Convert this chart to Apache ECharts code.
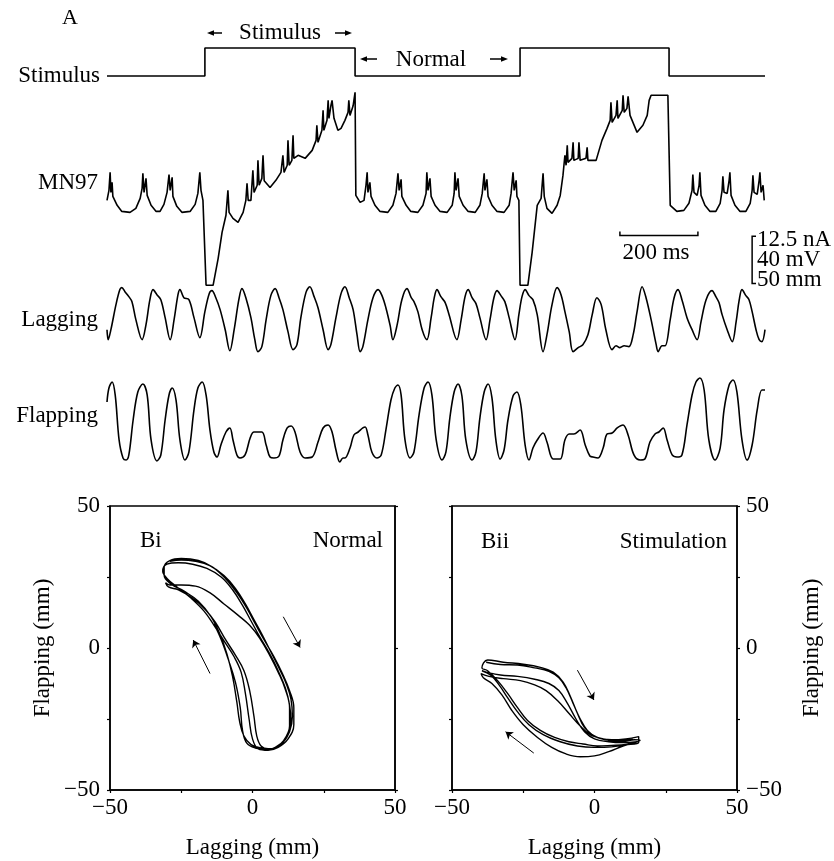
<!DOCTYPE html>
<html>
<head>
<meta charset="utf-8">
<script src="https://cdn.jsdelivr.net/npm/echarts@6/dist/echarts.min.js"></script>
<style>
html,body{margin:0;padding:0;background:#fff;}
#chart{width:834px;height:861px;}
</style>
</head>
<body>
<div id="chart"></div>
<script>
// ---------------- DATA ----------------
// time in ms, stimulus on/off
var stimulusTrace = [[0,0],[251,0],[251,1],[636,1],[636,0],[1059,0],[1059,1],[1441,1],[1441,0],[1687,0]];

// MN97 membrane potential [ms, mV]
var mn97Trace = [
[0,-49.8],[5,-41.3],[8,-26],[10,-43],[13,-34.5],[15,-46.4],[26,-54],[38,-59.2],[59,-60],[74,-56.6],[85,-48.1],[90,-39.6],[92,-26.9],[95,-43],[100,-31.1],[103,-45.6],[113,-54],[126,-59.2],[136,-59.2],[146,-53.2],[154,-43],[159,-27.8],[162,-41.3],[167,-30.2],[169,-46.4],[179,-54.9],[192,-60],[213,-59.2],[226,-53.2],[233,-43.9],[238,-26],[241,-41.3],[246,-49.8],[251,-51.5],
[254,-122],[272,-122],[285,-99.1],[295,-77],[305,-62.5],[310,-41.3],[313,-60],[323,-65.1],[336,-68.5],[349,-60],[356,-49.8],[359,-35.3],[362,-49.8],[369,-49.8],[374,-24.3],[377,-43],[385,-37],[387,-15.8],[390,-37],[397,-31.1],[400,-11.5],[403,-33.2],[418,-38.8],[433,-32.8],[446,-26],[451,-11.5],[454,-26],[462,-20],[464,1.2],[467,-20],[474,-15.8],[477,5.5],[479,-14.1],[490,-11.5],[508,-14.1],[526,-7.3],[536,1.2],[538,14],[541,-0.5],[551,9.7],[554,26.7],[556,9.7],[564,18.2],[567,35.2],[569,19.9],[574,30.6],[577,35.2],[582,19.9],[592,9.7],[600,11.4],[610,18.2],[618,25],[620,35.2],[623,22.4],[631,30.6],[636,42],
[638,-45.6],[649,-51.5],[659,-49.8],[664,-37],[667,-26],[669,-43],[674,-34.5],[677,-46.4],[687,-54],[700,-59.2],[720,-60],[733,-54],[741,-43.9],[746,-26.9],[749,-41.3],[754,-31.9],[756,-46.4],[767,-54],[779,-59.2],[797,-60],[810,-54],[818,-43.9],[820,-26],[823,-41.3],[828,-31.1],[831,-46.4],[841,-54],[854,-59.2],[872,-60],[885,-54],[890,-43.9],[892,-26],[895,-41.3],[900,-31.1],[903,-46.4],[913,-54],[926,-59.2],[944,-60],[956,-54],[962,-43.9],[967,-26.9],[969,-41.3],[974,-31.9],[977,-46.4],[987,-54],[1000,-59.2],[1018,-60],[1031,-54],[1036,-43.9],[1041,-26],[1044,-41.3],[1049,-32.8],[1051,-46.4],[1056,-49.8],
[1059,-122],[1079,-122],[1090,-94],[1103,-54],[1113,-48.1],[1118,-26.9],[1121,-46.4],[1128,-56.6],[1141,-60.9],[1154,-54],[1162,-45.6],[1169,-28.6],[1174,-11.5],[1177,-20],[1180,-3],[1182,-17.5],[1192,-14.1],[1195,-0.5],[1197,-15.8],[1208,-14.1],[1210,-0.5],[1213,-15.8],[1228,-14.1],[1231,-4.7],[1233,-15.8],[1254,-15.8],[1269,1.2],[1282,11.4],[1290,18.2],[1292,33.5],[1295,16.5],[1305,22.4],[1308,35.2],[1310,19.9],[1321,26.7],[1323,39.5],[1326,25],[1333,28.4],[1336,38.6],[1341,22.4],[1359,8],[1374,14],[1385,22.4],[1390,35.2],[1395,39.5],[1438,39.5],
[1444,-54],[1461,-59.2],[1479,-58.3],[1492,-52.3],[1500,-41.3],[1502,-27.8],[1505,-43],[1513,-45.6],[1518,-37],[1520,-26],[1523,-45.6],[1533,-54],[1546,-59.2],[1561,-59.2],[1572,-52.3],[1577,-41.3],[1579,-29.4],[1582,-43],[1590,-43.9],[1595,-32.8],[1597,-26],[1600,-45.6],[1610,-54],[1623,-59.2],[1638,-59.2],[1649,-52.3],[1654,-41.3],[1656,-28.6],[1659,-43],[1667,-44.7],[1672,-32.8],[1674,-26],[1677,-43],[1682,-37],[1685,-49.8]
];

// Lagging position [ms, mm]
var laggingTrace = [
[0,-12.8],[3,-23.4],[10,-12.8],[23,13.8],[33,29.8],[38,31.9],[46,27.6],[56,22.3],[64,17],[74,-2.1],[90,-23.4],[100,-7.4],[110,19.1],[118,29.8],[128,24.4],[138,19.1],[149,0],[162,-23.4],[172,-2.1],[182,24.4],[187,29.8],[197,21.2],[210,19.1],[223,0],[238,-21.2],[251,6.4],[262,25.5],[269,28.7],[279,21.2],[290,8.5],[303,-12.8],[315,-35.1],[326,-12.8],[338,19.1],[346,30.8],[356,21.2],[369,0],[379,-23.4],[387,-36.1],[397,-30.8],[408,-2.1],[420,23.4],[431,30.8],[441,21.2],[451,8.5],[464,-14.9],[477,-34],[487,-28.7],[497,0],[510,26.6],[520,32.9],[531,22.3],[541,10.6],[554,-12.8],[567,-34],[574,-28.7],[587,0],[600,25.5],[610,32.9],[621,21.2],[631,8.5],[641,-18.1],[649,-36.1],[656,-30.8],[669,-2.1],[682,21.2],[695,29.8],[705,23.4],[715,10.6],[726,-8.5],[733,-23.4],[744,-7.4],[756,19.1],[769,30.8],[780,21.2],[787,17],[797,6.4],[808,-12.8],[820,-23.4],[831,0],[839,21.2],[846,29.8],[856,22.3],[867,16],[877,3.2],[897,-23.4],[908,-2.1],[918,22.3],[926,29.8],[936,21.2],[946,14.9],[956,0],[972,-23.4],[982,-2.1],[992,21.2],[1000,28.7],[1010,23.4],[1020,17],[1031,0],[1046,-23.4],[1056,3.2],[1064,22.3],[1072,29.8],[1082,23.4],[1092,19.1],[1103,3.2],[1118,-36.1],[1128,-18.1],[1141,13.8],[1154,31.9],[1164,24.4],[1174,6.4],[1185,-14.9],[1195,-36.1],[1208,-31.9],[1220,-28.7],[1233,-18.1],[1244,3.2],[1256,21.2],[1267,13.8],[1279,-12.8],[1295,-34],[1305,-29.8],[1315,-31.9],[1326,-29.8],[1338,-30.8],[1349,-18.1],[1359,6.4],[1372,32.9],[1382,21.2],[1395,-2.1],[1408,-28.7],[1413,-36.1],[1423,-29.8],[1431,-29.8],[1444,-2.1],[1454,21.2],[1464,29.8],[1474,19.1],[1487,0],[1500,-12.8],[1513,-23.4],[1523,-4.3],[1536,19.1],[1551,28.7],[1561,22.3],[1569,16],[1577,3.2],[1590,-12.8],[1603,-25.5],[1613,-4.3],[1621,19.1],[1628,29.8],[1638,23.4],[1646,19.1],[1654,6.4],[1664,-12.8],[1672,-23.4],[1679,-25.5],[1687,-12.8]
];

// Flapping position [ms, mm]
var flappingTrace = [
[0,19.2],[5,34.1],[13,40.5],[21,26.7],[31,-21.3],[41,-40.5],[49,-42.7],[56,-37.3],[67,0],[79,29.9],[92,38.4],[103,26.7],[113,-21.3],[128,-43.7],[138,-37.3],[149,0],[159,26.7],[167,34.1],[177,21.3],[187,-21.3],[200,-42.7],[210,-34.1],[223,10.7],[233,34.1],[244,40.5],[254,26.7],[264,-10.7],[274,-34.1],[282,-39.5],[292,-26.7],[305,-12.8],[315,-8.5],[323,-21.3],[333,-37.3],[341,-40.5],[354,-37.3],[367,-19.2],[377,-12.8],[397,-12.8],[408,-26.7],[418,-39.5],[428,-40.5],[441,-38.4],[451,-21.3],[462,-8.5],[472,-6.4],[482,-12.8],[495,-34.1],[508,-40.5],[526,-39.5],[541,-23.5],[554,-8.5],[567,-5.3],[577,-12.8],[587,-32],[597,-44.8],[605,-40.5],[610,-40.5],[623,-29.9],[633,-16],[644,-12.8],[656,-8.5],[662,-7.5],[669,-16],[679,-34.1],[692,-40.5],[703,-37.3],[715,-10.7],[728,21.3],[738,34.1],[746,37.3],[754,26.7],[764,-21.3],[777,-40.5],[787,-34.1],[800,5.3],[813,34.1],[823,40.5],[833,26.7],[844,-21.3],[859,-42.7],[869,-34.1],[879,2.1],[890,29.9],[900,38.4],[910,25.6],[920,-21.3],[936,-42.7],[946,-34.1],[956,2.1],[967,29.9],[977,38.4],[987,23.5],[997,-21.3],[1008,-41.6],[1018,-32],[1028,0],[1041,25.6],[1051,29.9],[1061,16],[1072,-26.7],[1082,-42.7],[1092,-29.9],[1103,-21.3],[1118,-13.9],[1128,-23.5],[1144,-41.6],[1162,-41.6],[1174,-21.3],[1185,-14.9],[1197,-14.9],[1213,-10.7],[1226,-26.7],[1238,-38.4],[1246,-39.5],[1259,-40.5],[1272,-29.9],[1282,-14.9],[1295,-13.9],[1308,-8.5],[1323,-5.3],[1336,-16],[1351,-37.3],[1367,-42.7],[1379,-41.6],[1392,-23.5],[1405,-14.9],[1415,-12.8],[1426,-8.5],[1436,-21.3],[1449,-37.3],[1461,-39.5],[1474,-37.3],[1487,-5.3],[1500,26.7],[1510,40.5],[1520,44.8],[1531,32],[1543,-21.3],[1559,-42.7],[1572,-29.9],[1582,10.7],[1595,37.3],[1605,42.7],[1615,29.9],[1628,-21.3],[1641,-42.7],[1654,-26.7],[1667,10.7],[1679,32],[1687,32]
];

// Bi: Normal — [lagging mm, flapping mm]
var normalLoop = [
[-29,30.5],[-25,31],[-20,30.5],[-15,29],[-10,25.5],[-6,21],[-2.5,15.5],[0.5,10],[3.5,4.5],[6.5,-1.5],[9.5,-7.5],[12,-13],[13.5,-18],[14,-24],[13,-29.5],[10.5,-33.5],[7,-35.5],
[3,-35.2],[-0.5,-34],[-3,-31],[-4.5,-26],[-5.5,-19],[-7,-10],[-9,-2],[-11.5,5],[-14.5,11],[-19,16.5],[-24,20],[-28.5,22.5],[-31,25.5],[-31,28.5],[-29,30.8],
[-25,31.5],[-19,30.8],[-14,28.5],[-9.5,24.5],[-5.5,19.5],[-2,14],[1,8.5],[4,3],[7.5,-3],[10.5,-9],[13,-15],[14.5,-21],[14.5,-27],[12.5,-32],[9,-35],[5.5,-36],
[2,-35.5],[0,-32],[-1.2,-25],[-2.5,-16],[-4,-8.5],[-6.5,-3],[-10,2.5],[-13.5,8],[-17,13],[-21.5,17.5],[-26.5,21.5],[-30,24.5],[-31.5,27],[-30,29.5],[-26,30],
[-21,29.5],[-16,28],[-11,25],[-7,20.5],[-3.5,15],[-0.5,9.5],[2.5,4],[6,-2],[9,-8],[11.5,-14],[13,-20],[13.5,-26],[12,-31.5],[9,-34.5],[5.5,-35.5],
[3,-34.5],[1.5,-31],[0.5,-24],[-1,-15],[-3,-8],[-6,-2.5],[-9.5,3],[-13,9],[-16.5,13.5],[-21,17.5],[-26,20.5],[-29.5,21.5],[-30.5,23],[-29,22.2],
[-25,22.2],[-20,21.8],[-15,19.5],[-10,15.5],[-5,11.5],[-1,8],[2.5,3.5],[6,-2.5],[9,-8.5],[11.5,-14.5],[13,-21],[13,-27.5],[11,-32.5],[8,-35],[5.5,-35.8],
[1,-35.2],[-2,-33.5],[-3.5,-29],[-4.3,-21],[-6,-12],[-8.5,-4],[-11,3],[-13.5,8.5]
];

// Bii: Stimulation — [lagging mm, flapping mm]
var stimLoop = [
[-38,-5],[-33,-5.8],[-27,-6],[-21,-7],[-16,-8.2],[-12.5,-10.5],[-10,-14],[-7.5,-19.5],[-5,-25],[-2.5,-29],[1,-31.5],[6,-32.3],[11,-32],[15.5,-31.2],[15.5,-33.3],[11,-34],[6,-34.3],[1,-34.5],[-4,-33.8],[-9,-33],[-14,-31.5],[-19,-29],[-23.5,-25.5],[-27,-21],[-30.5,-16],[-34,-11.5],[-37.5,-8],[-39.5,-7],
[-37.5,-4.2],[-32,-5],[-25,-5.7],[-19,-6.8],[-14.5,-8.5],[-11,-12],[-8.5,-17],[-6,-23],[-3.5,-28],[0,-31],[5,-32.5],[10,-32.8],[14,-32.3],[16,-32.5],[12,-33.8],[6,-34.8],[0,-35],[-6,-34.5],[-12,-33],[-18,-30.5],[-23,-27],[-27,-22.5],[-30.5,-17.5],[-33.5,-13],[-36.5,-9.5],[-39.5,-8],
[-38,-8.5],[-33,-9.5],[-27,-10],[-21,-11],[-16,-12.5],[-12.5,-15],[-9.5,-19.5],[-6.5,-25],[-3.5,-29.5],[0,-32],[5,-33],[10,-33.3],[15,-33],[10,-34.5],[5,-36.5],[0,-38],[-5,-38.3],[-10,-37.3],[-15,-35],[-20,-31.5],[-25,-27],[-29,-22],[-32.5,-16.5],[-36,-12.5],[-39,-10.5],[-39.8,-9],
[-37,-10],[-32,-10.8],[-26,-11.5],[-21,-13],[-17,-15],[-13,-18.5],[-9,-23],[-5,-27.5],[-1.5,-30.5],[3,-32],[8,-32.5],[13.5,-32.2]
];

// direction arrows in the loop plots [[from],[to]] (mm)
var normalArrows = [[[-14.9,-9],[-20.8,2.8]], [[10.8,11],[16.7,0.2]]];
var stimArrows = [[[-6,-7.8],[-0.2,-18.3]], [[-21.3,-37],[-31.2,-29.5]]];

// scale bars
var scaleTimeMs = 200;
var scaleVoltMv = 40;
var scaleLabels = ['12.5 nA', '40 mV', '50 mm'];
var traceNames = ['Stimulus', 'MN97', 'Lagging', 'Flapping'];
var loopTickLabels = [-50, 0, 50];

// ---------------- CHART ----------------
var FONT = '"Liberation Serif", "DejaVu Serif", serif';
var FS = 23;
var chart = echarts.init(document.getElementById('chart'));
var TMAX = 1687;
var barT0 = 1315, barV = -79.6, brT = 1654, brV0 = -80.4;

function minusFmt(v) {
  if (loopTickLabels.indexOf(v) < 0) return '';
  return String(v).replace('-', '\u2212');
}

function hArrow(x1, x2, y) {
  var dir = x2 > x1 ? 1 : -1;
  return [
    {type:'line', shape:{x1:x1, y1:y, x2:x2 - dir*5, y2:y}, style:{stroke:'#000', lineWidth:1.5}},
    {type:'polygon', shape:{points:[[x2,y],[x2-dir*7,y-2.8],[x2-dir*7,y+2.8]]}, style:{fill:'#000'}}
  ];
}

var topGrid = {left:107, right:69};
var grids = [
  Object.assign({top:48, height:28}, topGrid),
  Object.assign({top:90, height:200}, topGrid),
  Object.assign({top:280, height:80}, topGrid),
  Object.assign({top:375, height:90}, topGrid),
  {left:110, top:506, width:285, height:284, show:true, borderColor:'#000', borderWidth:1.5},
  {left:452, top:506, width:285, height:284, show:true, borderColor:'#000', borderWidth:1.5}
];

var hiddenX = function(i){ return {type:'value', gridIndex:i, min:0, max:TMAX, show:false}; };
var hiddenY = function(i, mn, mx){ return {type:'value', gridIndex:i, min:mn, max:mx, show:false}; };

function loopAxis(extra, labelMargin, showLabel) {
  return Object.assign({
    type:'value', min:-50, max:50,
    axisLine:{show:true, onZero:false, lineStyle:{color:'#000', width:1.5}},
    axisTick:{show:true, inside:false, length:3, lineStyle:{color:'#000', width:1.2}},
    splitLine:{show:false},
    axisLabel:{show:showLabel, color:'#000', fontFamily:FONT, fontSize:FS, margin:labelMargin, formatter:minusFmt},
    nameTextStyle:{color:'#000', fontFamily:FONT, fontSize:FS}
  }, extra);
}

var xAxes = [hiddenX(0), hiddenX(1), hiddenX(2), hiddenX(3),
  loopAxis({gridIndex:4, interval:25, position:'bottom', name:'Lagging (mm)', nameLocation:'middle', nameGap:46}, 6, true),
  loopAxis({gridIndex:5, interval:25, position:'bottom', name:'Lagging (mm)', nameLocation:'middle', nameGap:46}, 6, true)
];
var yAxes = [hiddenY(0,0,1), hiddenY(1,-126,44), hiddenY(2,-45,40), hiddenY(3,-48,48),
  loopAxis({gridIndex:4, interval:25, position:'left', name:'Flapping (mm)', nameLocation:'middle', nameGap:56, nameRotate:90}, 10, true),
  loopAxis({gridIndex:4, interval:50, position:'right'}, 6, false),
  loopAxis({gridIndex:5, interval:25, position:'right', name:'Flapping (mm)', nameLocation:'middle', nameGap:63, nameRotate:90}, 9, true),
  loopAxis({gridIndex:5, interval:25, position:'left'}, 6, false)
];

var traceLine = {color:'#000', width:1.6};
var series = [
  {type:'line', xAxisIndex:0, yAxisIndex:0, data:stimulusTrace, showSymbol:false, clip:false, lineStyle:{color:'#000', width:1.6}, silent:true},
  {type:'line', xAxisIndex:1, yAxisIndex:1, data:mn97Trace, showSymbol:false, clip:false, lineStyle:traceLine, silent:true},
  {type:'line', xAxisIndex:2, yAxisIndex:2, data:laggingTrace, showSymbol:false, smooth:0.35, clip:false, lineStyle:traceLine, silent:true},
  {type:'line', xAxisIndex:3, yAxisIndex:3, data:flappingTrace, showSymbol:false, smooth:0.35, clip:false, lineStyle:traceLine, silent:true},
  {type:'line', xAxisIndex:4, yAxisIndex:4, data:normalLoop, showSymbol:false, smooth:0.4, lineStyle:{color:'#000', width:1.4}, silent:true},
  {type:'line', xAxisIndex:5, yAxisIndex:6, data:stimLoop, showSymbol:false, smooth:0.4, lineStyle:{color:'#000', width:1.4}, silent:true},
  {type:'lines', coordinateSystem:'cartesian2d', xAxisIndex:4, yAxisIndex:4, symbol:['none','arrow'], symbolSize:7,
    lineStyle:{color:'#000', width:1, opacity:1}, data:normalArrows.map(function(a){return {coords:a};}), silent:true},
  {type:'lines', coordinateSystem:'cartesian2d', xAxisIndex:5, yAxisIndex:6, symbol:['none','arrow'], symbolSize:7,
    lineStyle:{color:'#000', width:1, opacity:1}, data:stimArrows.map(function(a){return {coords:a};}), silent:true},
  // scale bars
  {type:'lines', coordinateSystem:'cartesian2d', xAxisIndex:1, yAxisIndex:1, polyline:true, symbol:'none',
    lineStyle:{color:'#000', width:1.5, opacity:1}, silent:true,
    data:[
      {coords:[[barT0, barV+3.4],[barT0, barV],[barT0+scaleTimeMs, barV],[barT0+scaleTimeMs, barV+3.4]]},
      {coords:[[brT+10, brV0],[brT, brV0],[brT, brV0-scaleVoltMv],[brT+10, brV0-scaleVoltMv]]}
    ]}
];

var txt = function(x, y, s, align, size){
  return {type:'text', x:x, y:y, style:{text:s, fill:'#000', font:(size||FS)+'px '+FONT, textAlign:align||'left', textVerticalAlign:'middle'}};
};

var graphics = [
  txt(62, 18, 'A', 'left', 22),
  txt(100, 76, traceNames[0], 'right'),
  txt(98, 183, traceNames[1], 'right'),
  txt(98, 320, traceNames[2], 'right'),
  txt(98, 416, traceNames[3], 'right'),
  txt(280, 33, 'Stimulus', 'center'),
  txt(431, 60, 'Normal', 'center'),
  txt(656, 253, scaleTimeMs + ' ms', 'center'),
  txt(757, 240, scaleLabels[0], 'left'),
  txt(757, 260, scaleLabels[1], 'left'),
  txt(757, 280, scaleLabels[2], 'left'),
  txt(140, 541, 'Bi', 'left'),
  txt(383, 541, 'Normal', 'right'),
  txt(481, 542, 'Bii', 'left'),
  txt(727, 542, 'Stimulation', 'right')
].concat(hArrow(222, 207, 33), hArrow(335, 352, 33), hArrow(377, 360, 59), hArrow(490, 508, 59));

chart.setOption({
  backgroundColor:'#fff',
  animation:false,
  grid:grids,
  xAxis:xAxes,
  yAxis:yAxes,
  series:series,
  graphic:graphics
});
</script>
</body>
</html>
